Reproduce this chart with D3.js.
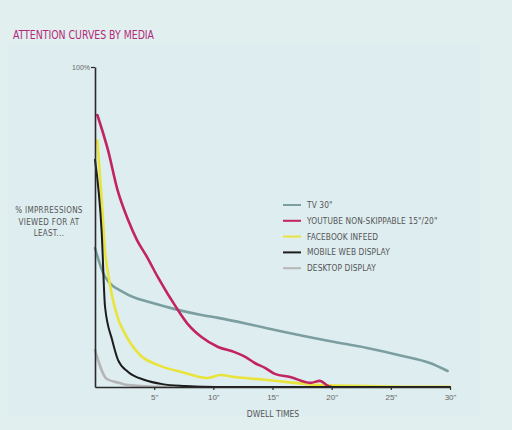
<!DOCTYPE html>
<html>
<head>
<meta charset="utf-8">
<script src="https://cdn.jsdelivr.net/npm/d3@7"></script>
<style>
  body { margin: 0; background: #e1efef; }
  svg { display: block; }
  text { font-family: "Liberation Sans Narrow", "DejaVu Sans Condensed", sans-serif; }
</style>
</head>
<body>
<div id="app"></div>
<script>
// dwell time (seconds) / % impressions viewed for at least that long
const seriesNames = ['TV 30"', 'YOUTUBE NON-SKIPPABLE 15"/20"', 'FACEBOOK INFEED', 'MOBILE WEB DISPLAY', 'DESKTOP DISPLAY'];
const seriesColors = ['#7b9ea0', '#c2245f', '#e9e43c', '#1c1c1c', '#b5b5b5'];

const tvTimes = [0, 0.85, 2.5, 4.8, 7, 9, 10.4, 13.3, 16, 19.9, 23, 25.9, 28.3, 29.8];
const tvValues = [43.4, 34.4, 29.4, 26.3, 24.1, 22.5, 21.6, 19.4, 17.2, 14.3, 12.2, 9.8, 7.5, 5];

const ytTimes = [0.2, 1.1, 1.9, 2.8, 3.55, 4.4, 5.3, 7, 7.9, 9, 10.4, 11.8, 12.7, 13.5, 14.4, 15.2, 16.5, 18.2, 19, 19.7, 20];
const ytValues = [85, 74, 61.6, 52.2, 45.9, 40.6, 34.4, 24.1, 19.4, 15.6, 12.5, 10.9, 9.4, 7.5, 5.9, 4.1, 3.1, 1.3, 1.9, 0.3, 0];

const fbTimes = [0.2, 0.57, 0.85, 1.1, 1.9, 2.5, 3.8, 5.3, 7.6, 9.5, 10.6, 11.8, 14.6, 16.1, 19, 23, 26.9, 30];
const fbValues = [77, 58.4, 42.5, 35.6, 21.9, 16.9, 10, 6.9, 4.4, 2.8, 3.75, 3.1, 2.2, 1.6, 0.6, 0.3, 0.1, 0.1];

const mobTimes = [0, 0.57, 0.85, 1.45, 1.95, 2.8, 4.2, 5.7, 7.6, 10, 20, 30];
const mobValues = [71, 48, 25, 14.7, 8.4, 4.7, 2.2, 0.9, 0.3, 0, 0, 0];

const deskTimes = [0, 1, 2.1, 2.8, 5, 10];
const deskValues = [11.5, 2.5, 1.25, 0.6, 0.1, 0];

const xTicks = [5, 10, 15, 20, 25, 30];
const yTicks = [100];

const seriesTimes = [tvTimes, ytTimes, fbTimes, mobTimes, deskTimes];
const seriesValues = [tvValues, ytValues, fbValues, mobValues, deskValues];

const width = 512, height = 430;
const svg = d3.select('#app').append('svg')
  .attr('width', width)
  .attr('height', height);

svg.append('rect').attr('width', width).attr('height', height).attr('fill', '#e1efef');
svg.append('rect')
  .attr('x', 8).attr('y', 44).attr('width', 472).attr('height', 372)
  .attr('fill', '#deedf0');

svg.append('text')
  .attr('x', 13).attr('y', 39)
  .attr('fill', '#b3297a')
  .style('font-size', '12.5px')
  .attr('textLength', 141)
  .attr('lengthAdjust', 'spacingAndGlyphs')
  .text('ATTENTION CURVES BY MEDIA');

const x = d3.scaleLinear().domain([0, 30]).range([95, 450]);
const y = d3.scaleLinear().domain([0, 100]).range([387, 67]);

const line = d3.line()
  .x(d => x(d[0]))
  .y(d => y(d[1]))
  .curve(d3.curveMonotoneX);

// draw lines back to front: desktop first, then others
const order = [4, 0, 2, 1, 3];
svg.append('g')
  .selectAll('path')
  .data(order)
  .join('path')
  .attr('fill', 'none')
  .attr('stroke', i => seriesColors[i])
  .attr('stroke-width', i => i === 3 ? 2 : 2.6)
  .attr('stroke-linejoin', 'round')
  .attr('stroke-linecap', 'round')
  .attr('d', i => line(seriesTimes[i].map((t, k) => [t, seriesValues[i][k]])));

const xAxis = svg.append('g')
  .attr('transform', `translate(0, ${y(0)})`)
  .call(d3.axisBottom(x).tickValues(xTicks).tickSize(3).tickSizeOuter(0).tickFormat(d => d + '"'));

const yAxis = svg.append('g')
  .attr('transform', `translate(${x(0)}, 0)`)
  .call(d3.axisLeft(y).tickValues(yTicks).tickSize(4).tickSizeOuter(0).tickFormat(d => d + '%'));

[xAxis, yAxis].forEach(a => {
  a.select('.domain').attr('stroke', '#2a2a2a').attr('stroke-width', 1.6);
  a.selectAll('.tick line').attr('stroke', '#2a2a2a').attr('stroke-width', 1.2);
  a.selectAll('.tick text').attr('fill', '#666').style('font-size', '8px')
    .style('font-family', '"Liberation Sans Narrow", sans-serif');
});
xAxis.selectAll('.tick text').attr('dy', '0.9em');
yAxis.selectAll('.tick text').attr('x', -5).style('font-size', '7px');

// y label
svg.append('text')
  .attr('x', 49).attr('y', 213)
  .attr('text-anchor', 'middle')
  .attr('fill', '#555')
  .style('font-size', '8px')
  .style('letter-spacing', '0.3px')
  .selectAll('tspan')
  .data(['% IMPRRESSIONS', 'VIEWED FOR AT', 'LEAST...'])
  .join('tspan')
  .attr('x', 49)
  .attr('dy', (d, i) => i === 0 ? 0 : 11.5)
  .text(d => d);

svg.append('text')
  .attr('x', 273).attr('y', 417)
  .attr('text-anchor', 'middle')
  .attr('fill', '#555')
  .style('font-size', '8.5px')
  .text('DWELL TIMES');

// legend
const legend = svg.append('g')
  .selectAll('g')
  .data(seriesNames)
  .join('g')
  .attr('transform', (d, i) => `translate(283, ${205 + i * 15.8})`);

legend.append('line')
  .attr('x1', 0).attr('x2', 18)
  .attr('stroke', (d, i) => seriesColors[i])
  .attr('stroke-width', 2);

legend.append('text')
  .attr('x', 24).attr('y', 3)
  .attr('fill', '#555')
  .style('font-size', '8.3px')
  .style('letter-spacing', '0.1px')
  .text(d => d);
</script>
</body>
</html>
